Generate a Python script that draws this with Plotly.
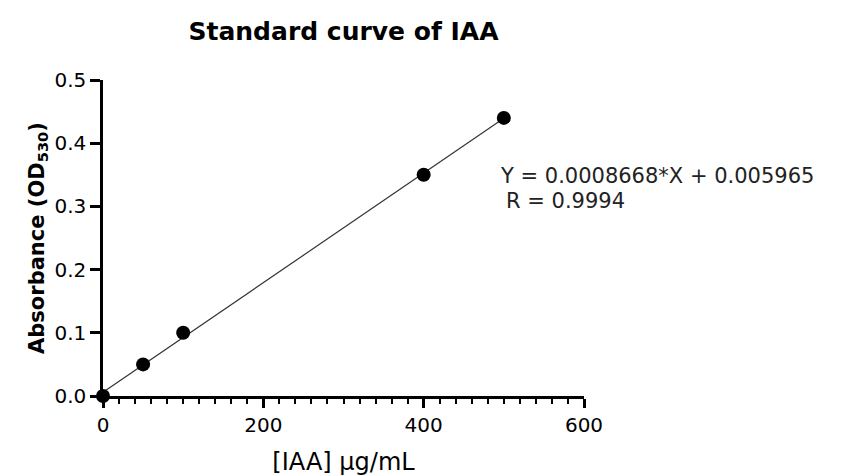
import plotly.graph_objects as go

# IAA standard concentrations (µg/mL) and measured absorbance at 530 nm
iaa_conc = [0, 50, 100, 400, 500]
absorbance = [0.0, 0.05, 0.10, 0.35, 0.44]

# Linear regression reported for the standard curve
slope = 0.0008668
intercept = 0.005965
r_value = 0.9994

x_ticks = [0, 200, 400, 600]
y_ticks = [0.0, 0.1, 0.2, 0.3, 0.4, 0.5]

fit_x = [min(iaa_conc), max(iaa_conc)]
fit_y = [slope * v + intercept for v in fit_x]

FONT = "DejaVu Sans"

fig = go.Figure()
fig.add_trace(go.Scatter(
    x=fit_x, y=fit_y, mode="lines",
    line=dict(color="#333333", width=1.2),
    cliponaxis=False, showlegend=False, hoverinfo="skip",
))
fig.add_trace(go.Scatter(
    x=iaa_conc, y=absorbance, mode="markers",
    marker=dict(color="black", size=14),
    cliponaxis=False, showlegend=False,
))

# Regression equation and correlation coefficient
fig.add_annotation(
    xref="paper", yref="paper", x=0.822, y=(396 - 176) / 316,
    xanchor="left", yanchor="middle", showarrow=False,
    text=f"Y = {slope:.7f}*X + {intercept:.6f}",
    font=dict(family=FONT, size=21, color="#222222"),
)
fig.add_annotation(
    xref="paper", yref="paper", x=0.833, y=(396 - 201) / 316,
    xanchor="left", yanchor="middle", showarrow=False,
    text=f"R = {r_value:.4f}",
    font=dict(family=FONT, size=21, color="#222222"),
)

fig.update_layout(
    width=844, height=476,
    margin=dict(l=103, r=260, t=80, b=80),
    paper_bgcolor="white", plot_bgcolor="white",
    title=dict(
        text="<b>Standard curve of IAA</b>",
        x=343.5 / 844, xanchor="center",
        y=1 - 31 / 476, yanchor="middle",
        font=dict(family=FONT, size=25, color="black"),
    ),
    font=dict(family=FONT, color="black"),
)

fig.update_xaxes(
    range=[0, 600], tickvals=x_ticks, ticktext=[str(v) for v in x_ticks],
    showgrid=False, zeroline=False, automargin=False,
    showline=True, linecolor="black", linewidth=2.5,
    ticks="outside", ticklen=9, tickwidth=2.5, tickcolor="black",
    minor=dict(dtick=20, ticks="outside", ticklen=5, tickwidth=2, tickcolor="black", showgrid=False),
    tickfont=dict(family=FONT, size=20, color="black"),
    title=dict(text="[IAA] μg/mL", font=dict(family=FONT, size=24, color="black"), standoff=20),
    layer="below traces",
)
fig.update_yaxes(
    range=[0, 0.5], tickvals=y_ticks, ticktext=[f"{v:.1f}" for v in y_ticks],
    showgrid=False, zeroline=False, automargin=False,
    showline=True, linecolor="black", linewidth=2.5,
    ticks="outside", ticklen=10, tickwidth=2.5, tickcolor="black",
    tickfont=dict(family=FONT, size=20, color="black"),
    title=dict(text="<b>Absorbance (OD<sub>530</sub>)</b>", font=dict(family=FONT, size=21, color="black"), standoff=5),
    layer="below traces",
)

fig.write_html("out.html")
